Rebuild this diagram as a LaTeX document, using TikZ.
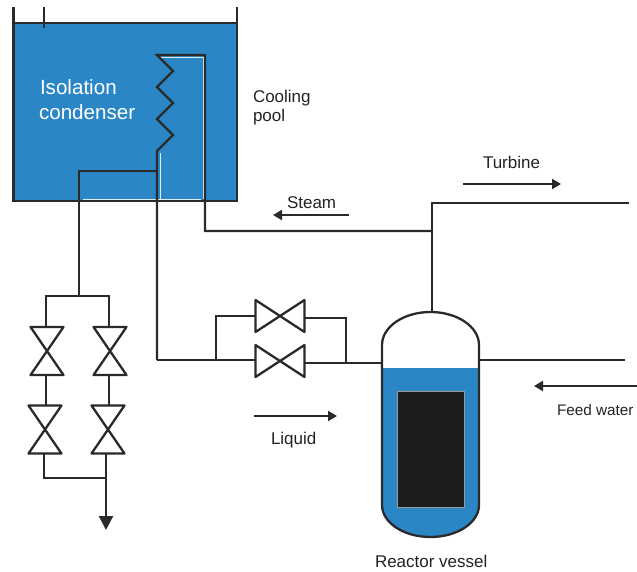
\documentclass[tikz,border=0pt]{standalone}
\usepackage{fontspec}
\setmainfont{Liberation Sans}
\usetikzlibrary{arrows.meta}
\definecolor{pipec}{HTML}{2A2A2A}
\definecolor{waterc}{HTML}{2B86C6}
\definecolor{corec}{HTML}{1C1C1C}
\definecolor{textc}{HTML}{222222}
\tikzset{
  pipe/.style={draw=pipec,line width=2.3pt,line join=miter},
  flowarrow/.style={draw=pipec,line width=2.2pt,-{Triangle[length=9pt,width=10pt]}},
  hvalvebox/.style={rectangle,inner sep=0pt,outer sep=0pt,minimum width=49pt,minimum height=32pt},
  vvalveboxa/.style={rectangle,inner sep=0pt,outer sep=0pt,minimum width=33pt,minimum height=48pt},
  lbl/.style={anchor=base west,inner sep=0pt,outer sep=0pt,text=textc,font=\fontsize{17}{20}\selectfont},
  whitelbl/.style={anchor=base west,inner sep=0pt,outer sep=0pt,text=white,font=\fontsize{20.6}{24}\selectfont},
  whiteline/.style={draw=white!85!waterc,line width=0.9pt},
}
\newcommand{\hvalve}[2]{%
  \node[hvalvebox] (#1) at (#2) {};
  \draw[pipe,line join=round] (#1.north west) -- (#1.south east) -- (#1.north east) -- (#1.south west) -- cycle;}
\newcommand{\vvalve}[2]{%
  \node[vvalveboxa] (#1) at (#2) {};
  \draw[pipe,line join=round] (#1.north west) -- (#1.south east) -- (#1.south west) -- (#1.north east) -- cycle;}
\begin{document}
\begin{tikzpicture}[x=1pt,y=-1pt]
\useasboundingbox (0,0) rectangle (637,571);
% cooling pool
\fill[waterc] (13.5,23) rectangle (237,201);
\coordinate (poolTL) at (13.5,7);
\coordinate (poolBL) at (13.5,201);
\coordinate (poolBR) at (237,201);
\coordinate (poolTR) at (237,7);
\draw[pipe] (poolTL) -- (poolBL) -- (poolBR) -- (poolTR);
\draw[pipe] (13.5,23) -- (237,23);
\draw[pipe] (44,7) -- (44,28);
% white highlights
\draw[whiteline] (160,57.5) -- (203,57.5) -- (203,199.3);
\draw[whiteline] (160,153) -- (160,199.3);
\draw[whiteline] (83,199.3) -- (201,199.3);
% reactor vessel
\fill[waterc] (382,368) -- (479,368) -- (479,505) arc[start angle=0,end angle=-180,x radius=48.5pt,y radius=32pt] -- cycle;
\draw[pipe] (382,345) arc[start angle=180,end angle=0,x radius=48.5pt,y radius=33pt] -- (479,505) arc[start angle=0,end angle=-180,x radius=48.5pt,y radius=32pt] -- cycle;
\node[rectangle,fill=corec,draw=gray!80,line width=0.7pt,minimum width=67pt,minimum height=116pt,inner sep=0pt] (core) at (430.5,449.5) {};
% junctions
\coordinate (vesselTop) at (432,312);
\coordinate (vesselL) at (382,363);
\coordinate (vesselR) at (479,360);
\coordinate (riserJ) at (432,231);
\coordinate (riserT) at (432,203);
\coordinate (turbEnd) at (629,203);
\coordinate (feedEnd) at (625,360);
\coordinate (coilT) at (157,55);
\coordinate (coilB) at (157,151);
\coordinate (coilJ) at (157,171);
\coordinate (liqCorner) at (157,360);
\coordinate (liqJ) at (216,360);
\coordinate (drainJ) at (79,171);
\coordinate (drainSplit) at (79,296);
% coil and steam line
\draw[pipe] (riserJ) -- (205,231) -- (205,55) -- (coilT) -- (173,71) -- (157,87) -- (173,103) -- (157,119) -- (173,135) -- (coilB) -- (liqCorner);
\draw[pipe] (coilJ) -- (drainJ) -- (drainSplit);
\draw[pipe] (vesselTop) -- (riserT) -- (turbEnd);
\draw[pipe] (vesselR) -- (feedEnd);
% middle valves
\hvalve{mvT}{280,316}
\hvalve{mvB}{280,361}
\draw[pipe] (liqCorner) -- (mvB.west |- liqCorner);
\draw[pipe] (liqJ) -- (216,316) -- (mvT.west);
\draw[pipe] (mvT.east |- 0,318) -- (346,318) -- (346,363);
\draw[pipe] (mvB.east |- vesselL) -- (vesselL);
% left valves
\vvalve{lvA}{47,351}
\vvalve{rvA}{110,351}
\vvalve{lvB}{45,429.5}
\vvalve{rvB}{108,429.5}
\draw[pipe] (46,327) -- (46,296) -- (109,296) -- (109,327);
\draw[pipe] (46,375) -- (46,405);
\draw[pipe] (109,375) -- (109,405);
\draw[pipe] (44,453.5) -- (44,478) -- (106,478);
\coordinate (drainEnd) at (106,530);
\draw[pipe,-{Triangle[length=14pt,width=14pt]}] (106,453.5) -- (drainEnd);
% flow arrows
\coordinate (tA) at (463,184); \coordinate (tB) at (561,184);
\coordinate (sA) at (348.5,215); \coordinate (sB) at (273,215);
\coordinate (lA) at (254,416); \coordinate (lB) at (337,416);
\coordinate (fA) at (637,386); \coordinate (fB) at (534,386);
\draw[flowarrow] (tA) -- (tB);
\draw[flowarrow] (sA) -- (sB);
\draw[flowarrow] (lA) -- (lB);
\draw[flowarrow] (fA) -- (fB);
% labels
\node[whitelbl] (t1) at (40,94) {Isolation};
\node[whitelbl] (t2) at (39,119) {condenser};
\node[lbl] (t3) at (253,102) {Cooling};
\node[lbl] (t4) at (253,121) {pool};
\node[lbl] (t5) at (483,168) {Turbine};
\node[lbl] (t6) at (287,208) {Steam};
\node[lbl] (t7) at (271,444) {Liquid};
\node[lbl,font=\fontsize{15.3}{19}\selectfont] (t8) at (557,415) {Feed water};
\node[lbl] (t9) at (375,567) {Reactor vessel};
\end{tikzpicture}
\end{document}
